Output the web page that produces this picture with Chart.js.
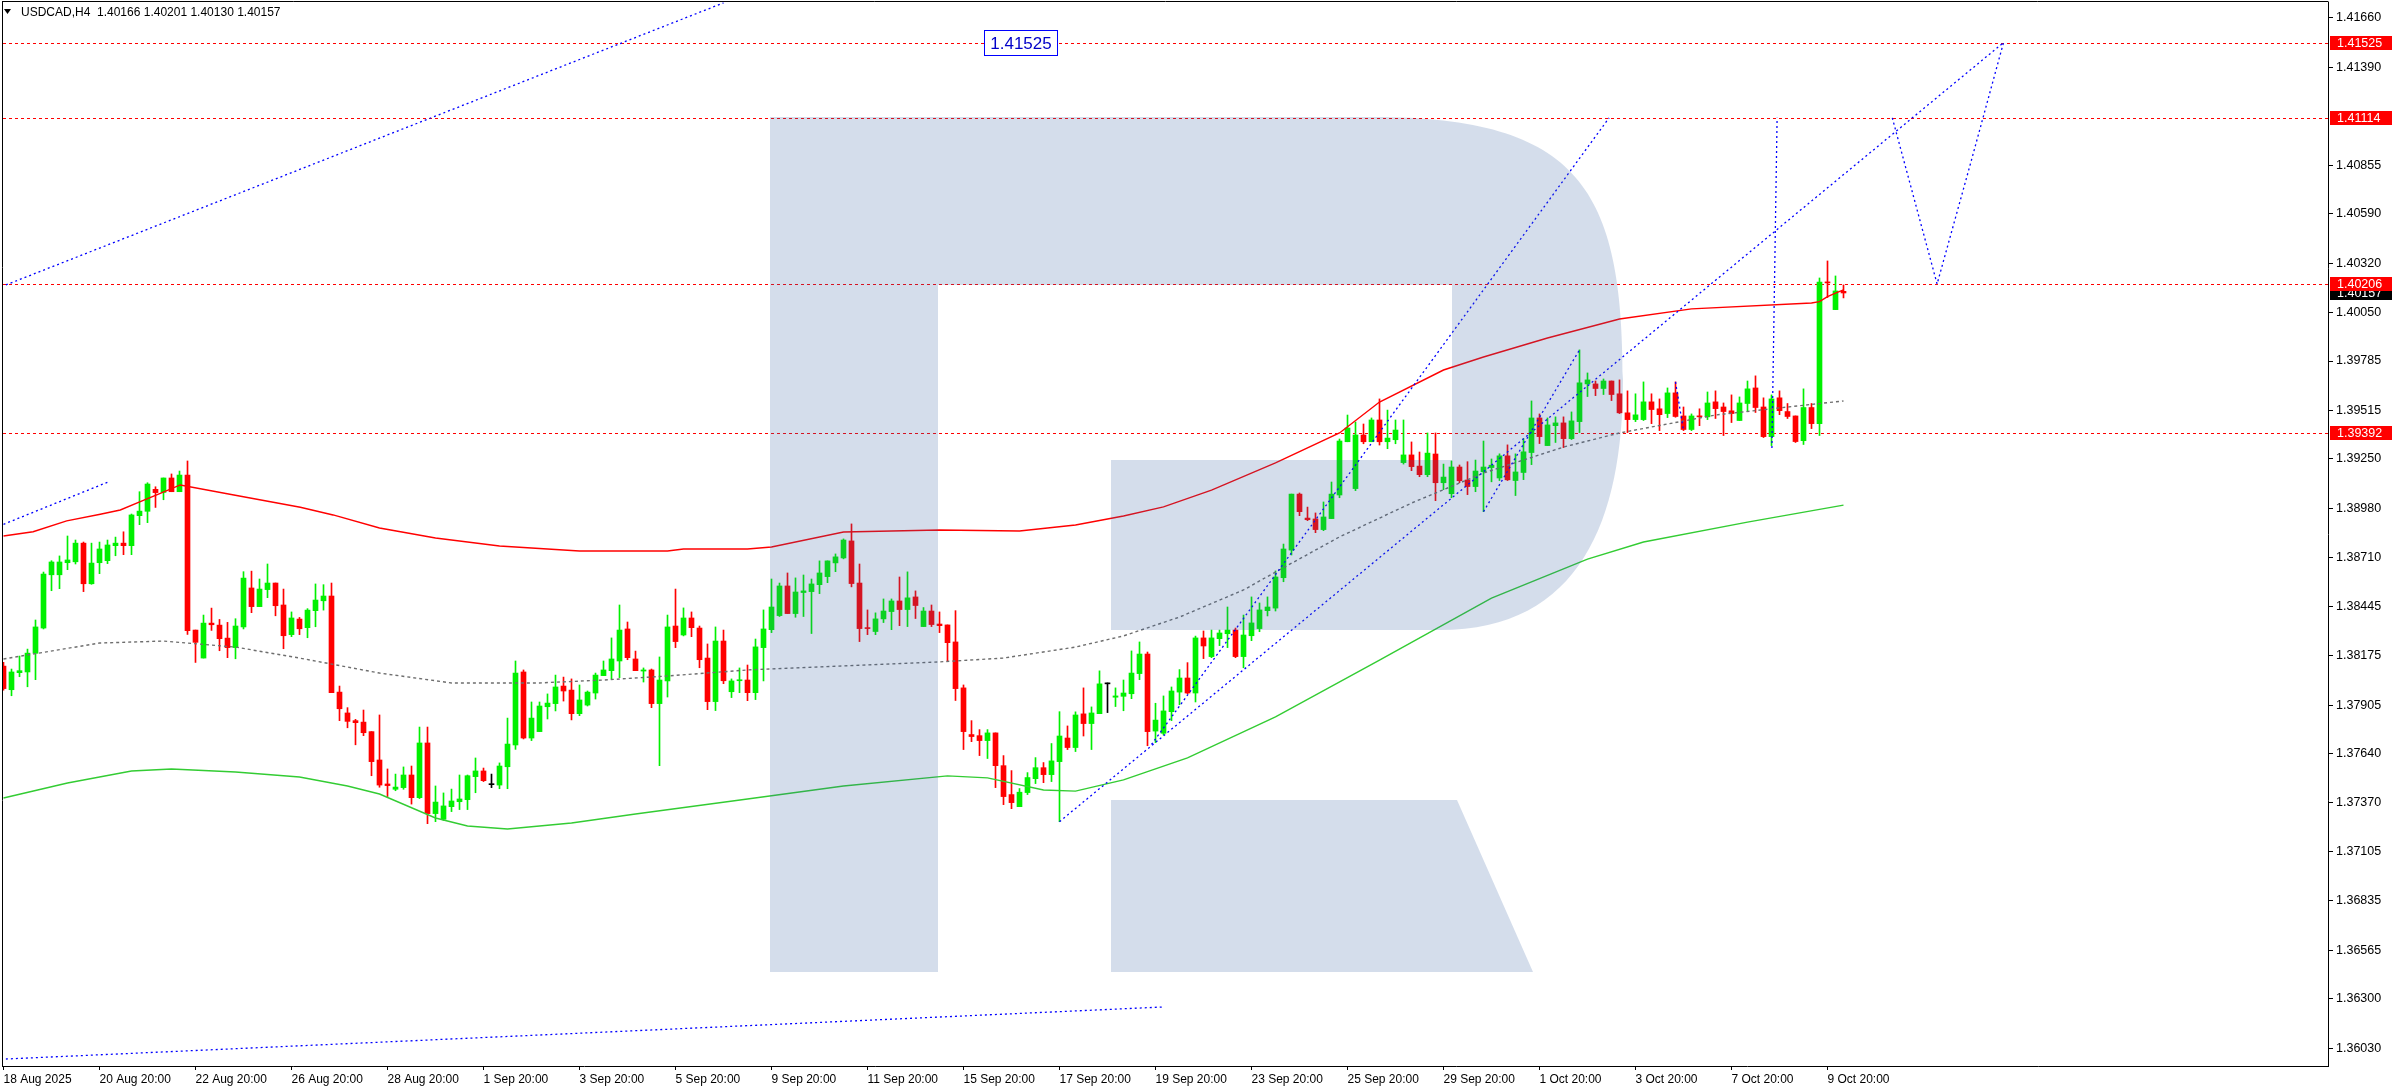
<!DOCTYPE html>
<html>
<head>
<meta charset="utf-8">
<script src="https://cdn.jsdelivr.net/npm/chart.js@4.4.1/dist/chart.umd.min.js"></script>
<style>
html,body{margin:0;padding:0;background:#fff;overflow:hidden}
#wrap{width:2392px;height:1090px;position:relative}
canvas{display:block}
</style>
</head>
<body>
<div id="wrap"><canvas id="c" width="2392" height="1090"></canvas></div>
<script>
// ---------------- DATA ----------------
const headerText = 'USDCAD,H4  1.40166 1.40201 1.40130 1.40157';

const xTickBars = [0,12,24,36,48,60,72,84,96,108,120,132,144,156,168,180,192,204,216,228];
const xTickLabels = ['18 Aug 2025','20 Aug 20:00','22 Aug 20:00','26 Aug 20:00','28 Aug 20:00','1 Sep 20:00','3 Sep 20:00','5 Sep 20:00','9 Sep 20:00','11 Sep 20:00','15 Sep 20:00','17 Sep 20:00','19 Sep 20:00','23 Sep 20:00','25 Sep 20:00','29 Sep 20:00','1 Oct 20:00','3 Oct 20:00','7 Oct 20:00','9 Oct 20:00'];

const yTickValues = [1.41660,1.41390,1.40855,1.40590,1.40320,1.40050,1.39785,1.39515,1.39250,1.38980,1.38710,1.38445,1.38175,1.37905,1.37640,1.37370,1.37105,1.36835,1.36565,1.36300,1.36030];

const opens = [1.38118,1.37989,1.38082,1.38086,1.38188,1.38326,1.38617,1.38617,1.38683,1.38688,
1.38790,1.38568,1.38683,1.38694,1.38776,1.38790,1.38776,1.38940,1.38964,1.39084,
1.39067,1.39146,1.39071,1.39162,1.38315,1.38162,1.38353,1.38342,1.38271,1.38219,
1.38332,1.38545,1.38443,1.38536,1.38572,1.38452,1.38290,1.38375,1.38328,1.38421,
1.38475,1.38501,1.37976,1.37862,1.37820,1.37812,1.37760,1.37605,1.37474,1.37445,
1.37454,1.37523,1.37399,1.37698,1.37312,1.37281,1.37350,1.37377,1.37388,1.37514,
1.37545,1.37470,1.37468,1.37568,1.37687,1.38086,1.37725,1.37760,1.37896,1.37913,
1.38009,1.37987,1.37858,1.37905,1.37971,1.38066,1.38093,1.38146,1.38321,1.38157,
1.38091,1.38097,1.37913,1.38037,1.38337,1.38288,1.38381,1.38326,1.38162,1.37924,
1.38255,1.37978,1.38038,1.38042,1.37973,1.38219,1.38317,1.38394,1.38556,1.38405,
1.38520,1.38525,1.38563,1.38607,1.38682,1.38709,1.38802,1.38572,1.38328,1.38307,
1.38376,1.38416,1.38474,1.38427,1.38496,1.38334,1.38419,1.38348,1.38343,1.38250,
1.37999,1.37744,1.37738,1.37711,1.37753,1.37574,1.37416,1.37350,1.37427,1.37503,
1.37563,1.37525,1.37596,1.37725,1.37673,1.37857,1.37804,1.37858,1.38021,1.37948,
1.37953,1.37967,1.38077,1.38184,1.37763,1.37751,1.37869,1.37976,1.38053,1.37971,
1.38272,1.38170,1.38268,1.38295,1.38315,1.38170,1.38284,1.38323,1.38421,1.38435,
1.38601,1.38752,1.39058,1.38927,1.38922,1.38864,1.38924,1.39053,1.39344,1.39088,
1.39381,1.39344,1.39463,1.39344,1.39355,1.39230,1.39272,1.39211,1.39164,1.39277,
1.39120,1.39060,1.39206,1.39135,1.39099,1.39180,1.39203,1.39146,1.39267,1.39132,
1.39176,1.39285,1.39474,1.39323,1.39432,1.39447,1.39361,1.39454,1.39660,1.39660,
1.39635,1.39676,1.39606,1.39502,1.39465,1.39465,1.39562,1.39524,1.39498,1.39611,
1.39485,1.39411,1.39485,1.39480,1.39562,1.39534,1.39513,1.39460,1.39553,1.39638,
1.39534,1.39372,1.39584,1.39509,1.39485,1.39350,1.39531,1.39443,1.40217,1.40066,
1.40166];

const highs = [1.38138,1.38102,1.38173,1.38211,1.38370,1.38632,1.38694,1.38720,1.38829,1.38807,
1.38796,1.38790,1.38796,1.38807,1.38823,1.38852,1.38949,1.39071,1.39120,1.39098,
1.39146,1.39168,1.39184,1.39239,1.38315,1.38397,1.38435,1.38373,1.38357,1.38377,
1.38634,1.38637,1.38594,1.38676,1.38572,1.38539,1.38414,1.38384,1.38432,1.38567,
1.38563,1.38572,1.38009,1.37891,1.37827,1.37878,1.37760,1.37851,1.37556,1.37528,
1.37567,1.37572,1.37785,1.37785,1.37463,1.37425,1.37446,1.37523,1.37523,1.37616,
1.37561,1.37528,1.37589,1.37834,1.38146,1.38097,1.37922,1.37922,1.37966,1.38069,
1.38058,1.38048,1.38015,1.37982,1.38080,1.38146,1.38272,1.38452,1.38359,1.38200,
1.38108,1.38102,1.38168,1.38397,1.38539,1.38436,1.38414,1.38337,1.38239,1.38332,
1.38315,1.38048,1.38108,1.38124,1.38266,1.38425,1.38594,1.38572,1.38627,1.38600,
1.38616,1.38594,1.38693,1.38693,1.38731,1.38813,1.38895,1.38676,1.38425,1.38409,
1.38485,1.38485,1.38605,1.38633,1.38529,1.38438,1.38452,1.38414,1.38343,1.38421,
1.38015,1.37820,1.37771,1.37771,1.37753,1.37629,1.37547,1.37449,1.37536,1.37618,
1.37591,1.37695,1.37869,1.37791,1.37868,1.37999,1.37895,1.38092,1.38026,1.37999,
1.38042,1.38201,1.38250,1.38195,1.37915,1.37955,1.38004,1.38099,1.38137,1.38282,
1.38310,1.38315,1.38315,1.38441,1.38326,1.38397,1.38496,1.38463,1.38496,1.38638,
1.38785,1.39058,1.39064,1.38987,1.38955,1.39015,1.39124,1.39359,1.39490,1.39452,
1.39441,1.39474,1.39578,1.39517,1.39463,1.39463,1.39343,1.39288,1.39392,1.39392,
1.39222,1.39239,1.39217,1.39235,1.39244,1.39348,1.39250,1.39278,1.39327,1.39278,
1.39361,1.39567,1.39496,1.39474,1.39480,1.39480,1.39507,1.39846,1.39720,1.39676,
1.39687,1.39676,1.39682,1.39622,1.39606,1.39671,1.39606,1.39578,1.39638,1.39671,
1.39534,1.39496,1.39524,1.39616,1.39622,1.39556,1.39600,1.39589,1.39676,1.39704,
1.39584,1.39600,1.39622,1.39553,1.39485,1.39633,1.39553,1.40239,1.40332,1.40250,
1.40201];

const lows = [1.37987,1.37956,1.38060,1.38005,1.38044,1.38321,1.38530,1.38541,1.38645,1.38676,
1.38525,1.38565,1.38623,1.38678,1.38721,1.38727,1.38727,1.38891,1.38902,1.38985,
1.39027,1.39071,1.39071,1.38291,1.38138,1.38162,1.38313,1.38202,1.38164,1.38158,
1.38321,1.38410,1.38443,1.38492,1.38393,1.38213,1.38279,1.38290,1.38273,1.38333,
1.38424,1.37973,1.37820,1.37781,1.37688,1.37738,1.37519,1.37456,1.37405,1.37437,
1.37445,1.37364,1.37394,1.37257,1.37268,1.37275,1.37323,1.37334,1.37334,1.37426,
1.37487,1.37454,1.37448,1.37448,1.37663,1.37720,1.37711,1.37760,1.37829,1.37873,
1.37927,1.37824,1.37847,1.37900,1.37938,1.38066,1.38046,1.38055,1.38153,1.38093,
1.38031,1.37891,1.37574,1.37949,1.38219,1.38283,1.38279,1.38109,1.37880,1.37875,
1.38022,1.37946,1.37973,1.37929,1.37935,1.38037,1.38301,1.38389,1.38405,1.38385,
1.38389,1.38296,1.38514,1.38574,1.38634,1.38704,1.38551,1.38252,1.38290,1.38290,
1.38356,1.38317,1.38339,1.38334,1.38378,1.38334,1.38334,1.38301,1.38144,1.37930,
1.37662,1.37705,1.37629,1.37613,1.37454,1.37361,1.37339,1.37350,1.37416,1.37476,
1.37481,1.37487,1.37268,1.37662,1.37651,1.37736,1.37662,1.37858,1.37864,1.37897,
1.37874,1.37940,1.38044,1.37683,1.37700,1.37742,1.37820,1.37907,1.37966,1.37922,
1.38159,1.38164,1.38230,1.38219,1.38164,1.38109,1.38257,1.38306,1.38392,1.38419,
1.38579,1.38725,1.38940,1.38913,1.38847,1.38858,1.38924,1.39038,1.39344,1.39077,
1.39333,1.39344,1.39326,1.39306,1.39333,1.39222,1.39186,1.39153,1.39153,1.39022,
1.39082,1.39038,1.39120,1.39055,1.39071,1.38962,1.39125,1.39132,1.39132,1.39050,
1.39137,1.39219,1.39334,1.39323,1.39340,1.39312,1.39356,1.39394,1.39591,1.39596,
1.39602,1.39569,1.39498,1.39394,1.39454,1.39460,1.39443,1.39405,1.39476,1.39478,
1.39405,1.39405,1.39432,1.39465,1.39471,1.39378,1.39449,1.39460,1.39509,1.39504,
1.39367,1.39323,1.39492,1.39471,1.39340,1.39329,1.39416,1.39378,1.40132,1.40066,
1.40130];

const closes = [1.37995,1.38086,1.38093,1.38189,1.38332,1.38621,1.38687,1.38687,1.38698,1.38790,
1.38568,1.38681,1.38758,1.38780,1.38790,1.38776,1.38944,1.38965,1.39113,1.39066,
1.39146,1.39071,1.39162,1.38311,1.38248,1.38353,1.38344,1.38268,1.38219,1.38337,
1.38599,1.38443,1.38539,1.38572,1.38448,1.38284,1.38381,1.38322,1.38424,1.38479,
1.38501,1.37973,1.37885,1.37816,1.37809,1.37754,1.37596,1.37468,1.37465,1.37457,
1.37523,1.37399,1.37698,1.37312,1.37375,1.37354,1.37381,1.37392,1.37519,1.37545,
1.37492,1.37470,1.37572,1.37692,1.38080,1.37725,1.37834,1.37900,1.37916,1.38004,
1.37982,1.37858,1.37933,1.37976,1.38069,1.38097,1.38157,1.38315,1.38164,1.38093,
1.38097,1.37913,1.38042,1.38332,1.38252,1.38381,1.38328,1.38153,1.37924,1.38255,
1.38038,1.38037,1.38042,1.37973,1.38223,1.38321,1.38441,1.38556,1.38405,1.38523,
1.38529,1.38567,1.38627,1.38693,1.38715,1.38807,1.38569,1.38323,1.38323,1.38376,
1.38419,1.38474,1.38427,1.38491,1.38449,1.38419,1.38345,1.38339,1.38246,1.37995,
1.37760,1.37733,1.37711,1.37753,1.37574,1.37405,1.37372,1.37429,1.37509,1.37563,
1.37525,1.37600,1.37736,1.37673,1.37851,1.37804,1.37862,1.38021,1.38021,1.37955,
1.37971,1.38080,1.38184,1.37760,1.37823,1.37873,1.37982,1.38053,1.37971,1.38272,
1.38228,1.38272,1.38299,1.38315,1.38170,1.38288,1.38354,1.38425,1.38441,1.38605,
1.38758,1.39058,1.38962,1.38918,1.38864,1.38933,1.39058,1.39348,1.39419,1.39381,
1.39344,1.39463,1.39344,1.39364,1.39408,1.39272,1.39208,1.39164,1.39282,1.39120,
1.39151,1.39206,1.39131,1.39099,1.39184,1.39206,1.39216,1.39267,1.39136,1.39179,
1.39289,1.39474,1.39372,1.39436,1.39447,1.39361,1.39458,1.39666,1.39682,1.39635,
1.39676,1.39602,1.39502,1.39465,1.39491,1.39562,1.39520,1.39492,1.39611,1.39482,
1.39411,1.39485,1.39480,1.39556,1.39525,1.39509,1.39498,1.39556,1.39633,1.39531,
1.39372,1.39578,1.39514,1.39482,1.39345,1.39531,1.39443,1.40217,1.40212,1.40168,
1.40157];

// moving-average style lines: [bar index, price]
const upperLine = [[0,1.38829],[3.7,1.38852],[7.9,1.38912],[12.1,1.38948],[14.6,1.38971],[17.1,1.39017],[19.6,1.39062],[22.1,1.39108],[28.8,1.39053],[37.1,1.38986],[41.2,1.38944],[47,1.38873],[54,1.38818],[62,1.38774],[72,1.38747],[83,1.38747],[85,1.38758],[93,1.38758],[96,1.38769],[105,1.38851],[117,1.38862],[127,1.38856],[134,1.38889],[140,1.38938],[145,1.38988],[151,1.39080],[159,1.39228],[167,1.39392],[172,1.39561],[180,1.39736],[185,1.39807],[193,1.39911],[202,1.40015],[211,1.40070],[226,1.40102],[227,1.40110],[228,1.40137],[229,1.40156],[230,1.40174]];
const middleLine = [[0,1.38157],[12,1.38244],[20,1.38255],[29,1.38222],[37,1.38162],[47,1.38080],[56,1.38026],[67,1.38026],[75,1.38042],[83,1.38064],[93,1.38097],[117,1.38141],[125,1.38162],[134,1.38222],[140,1.38283],[147,1.38386],[155,1.38534],[159,1.38632],[167,1.38824],[176,1.39009],[185,1.39173],[195,1.39315],[202,1.39392],[214,1.39490],[222,1.39529],[230,1.39567]];
const lowerLine = [[0,1.37397],[8,1.37479],[16,1.37545],[21,1.37556],[29,1.37539],[37,1.37512],[43,1.37463],[47,1.37419],[54,1.37288],[58,1.37244],[63,1.37228],[71,1.37261],[79,1.37310],[93,1.37392],[105,1.37463],[118,1.37518],[123,1.37507],[130,1.37441],[134,1.37435],[140,1.37496],[148,1.37616],[159,1.37840],[172,1.38151],[186,1.38490],[198,1.38703],[205,1.38796],[218,1.38905],[230,1.38998]];

// dotted trend / forecast lines: list of polylines [bar index, price]
const trendLines = [
  [[0.3,1.40201],[90,1.41742]],
  [[0,1.38893],[13.2,1.39126]],
  [[0.3,1.35971],[144.8,1.36255]],
  [[132,1.37268],[250,1.41525]],
  [[143.5,1.37690],[200.7,1.41114]],
  [[185,1.38962],[197,1.39846]],
  [[209,1.39671],[210,1.39405]],
  [[221.05,1.39310],[221.7,1.41114]],
  [[236.1,1.41114],[241.7,1.40206],[246,1.40884],[250,1.41525]]
];

const levels = [1.41525, 1.41114, 1.40206, 1.39392];
const lastPrice = 1.40157;
const tagValue = 1.41525;
const tagBars = [122.6, 131.7];

// ---------------- STYLE / LAYOUT ----------------
const BULL = '#00f000', BEAR = '#ff0000', DOJI = '#000000';
const X_MIN = -0.0625, X_MAX = 290.5625;
const Y_MIN = 1.359328, Y_MAX = 1.41747;
const FONT = 'Liberation Sans';

const idx = opens.map((_, i) => i);
const candleColor = idx.map(i => closes[i] > opens[i] ? BULL : (closes[i] < opens[i] ? BEAR : DOJI));

const lineDs = (pts, color, width, dash, order) => ({
  type: 'line',
  data: pts.map(p => ({x: p[0], y: p[1]})),
  borderColor: color, borderWidth: width, borderDash: dash || [],
  pointRadius: 0, tension: 0, fill: false, clip: 0, order: order
});

const datasets = [
  { type: 'bar', data: idx.map(i => ({x: i, y: [lows[i], highs[i]]})), backgroundColor: candleColor,
    barThickness: 1, grouped: false, borderWidth: 0, minBarLength: 1, clip: 0, order: 7 },
  { type: 'bar', data: idx.map(i => ({x: i, y: [opens[i], closes[i]]})), backgroundColor: candleColor,
    barThickness: 5, grouped: false, borderWidth: 0, minBarLength: 1, clip: 0, order: 6 },
  lineDs(upperLine, '#ff0000', 1.4, [], 3),
  lineDs(middleLine, '#6e6e6e', 1.4, [3, 3], 3),
  lineDs(lowerLine, '#33cc33', 1.4, [], 3)
];
trendLines.forEach(t => datasets.push(lineDs(t, '#0000ff', 1.3, [2, 3], 1)));

// ---------------- PLUGINS ----------------
const levelsPlugin = {
  id: 'levels',
  beforeDatasetsDraw(chart) {
    const {ctx, chartArea: a, scales: {y}} = chart;
    ctx.save();
    ctx.strokeStyle = '#ff0000'; ctx.lineWidth = 1; ctx.setLineDash([3, 3]);
    levels.forEach(v => {
      const py = Math.round(y.getPixelForValue(v)) + 0.5;
      ctx.beginPath(); ctx.moveTo(a.left, py); ctx.lineTo(a.right, py); ctx.stroke();
    });
    ctx.restore();
  }
};

const watermarkPlugin = {
  id: 'wm',
  afterDatasetsDraw(chart) {
    const c = chart.ctx;
    c.save();
    c.fillStyle = 'rgba(50,95,160,0.21)';
    c.beginPath();
    c.moveTo(770, 117); c.lineTo(1373, 117);
    c.bezierCurveTo(1580, 117, 1623, 190, 1623, 380);
    c.bezierCurveTo(1623, 520, 1580, 630, 1440, 630);
    c.lineTo(1111, 630); c.lineTo(1111, 460); c.lineTo(1452, 460); c.lineTo(1452, 285);
    c.lineTo(938, 285); c.lineTo(938, 972); c.lineTo(770, 972); c.closePath();
    c.moveTo(1111, 800); c.lineTo(1457, 800); c.lineTo(1533, 972); c.lineTo(1111, 972); c.closePath();
    c.fill();
    c.restore();
  }
};

const overlayPlugin = {
  id: 'overlay',
  afterDraw(chart) {
    const {ctx, chartArea: a, scales: {x, y}} = chart;
    ctx.save();
    // frame (top + left)
    ctx.strokeStyle = '#000'; ctx.lineWidth = 1;
    ctx.beginPath(); ctx.moveTo(a.left - 0.5, 1.5); ctx.lineTo(a.right + 0.5, 1.5); ctx.stroke();
    ctx.beginPath(); ctx.moveTo(a.left - 0.5, 1); ctx.lineTo(a.left - 0.5, a.bottom + 1); ctx.stroke();

    // header
    ctx.fillStyle = '#000';
    ctx.beginPath(); ctx.moveTo(4, 9); ctx.lineTo(11, 9); ctx.lineTo(7.5, 14); ctx.closePath(); ctx.fill();
    ctx.font = '12px "' + FONT + '"'; ctx.textBaseline = 'middle'; ctx.textAlign = 'left';
    ctx.fillText(headerText, 21, 12.5);

    // price tag in chart
    const ty = y.getPixelForValue(tagValue);
    const tx0 = Math.round(x.getPixelForValue(tagBars[0])) + 0.5;
    const tx1 = Math.round(x.getPixelForValue(tagBars[1])) + 0.5;
    ctx.fillStyle = '#ffffff';
    ctx.fillRect(tx0, Math.round(ty) - 12.5, tx1 - tx0, 25);
    ctx.strokeStyle = '#0000ff';
    ctx.strokeRect(tx0, Math.round(ty) - 12.5, tx1 - tx0, 25);
    ctx.fillStyle = '#0000c8';
    ctx.font = '17px "' + FONT + '"'; ctx.textAlign = 'center';
    ctx.fillText(tagValue.toFixed(5), (tx0 + tx1) / 2, Math.round(ty) + 1);

    // right axis labels
    ctx.font = '12.5px "' + FONT + '"'; ctx.textAlign = 'left';
    const box = (v, bg) => {
      const py = Math.round(y.getPixelForValue(v));
      ctx.fillStyle = bg;
      ctx.fillRect(a.right + 2, py - 7, chart.width - a.right - 2, 14);
      ctx.fillStyle = '#ffffff';
      ctx.fillText(v.toFixed(5), a.right + 9, py + 0.5);
    };
    box(lastPrice, '#000000');
    levels.forEach(v => box(v, '#ff0000'));
    ctx.restore();
  }
};

// ---------------- CHART ----------------
new Chart(document.getElementById('c'), {
  type: 'bar',
  data: { datasets },
  options: {
    responsive: false, animation: false, devicePixelRatio: 1,
    layout: { padding: { left: 3, top: 2, right: 0, bottom: 0 } },
    plugins: { legend: { display: false }, tooltip: { enabled: false }, title: { display: false } },
    scales: {
      x: {
        type: 'linear', position: 'bottom', min: X_MIN, max: X_MAX, offset: false,
        grid: { display: true, drawOnChartArea: false, drawTicks: true, tickLength: 4, color: '#000', offset: false },
        border: { display: true, color: '#000', width: 1 },
        ticks: { autoSkip: false, maxRotation: 0, minRotation: 0, align: 'start', padding: 2, color: '#000',
                 font: { family: FONT, size: 12 }, callback: (v, i) => xTickLabels[i] },
        afterBuildTicks: s => { s.ticks = xTickBars.map(v => ({ value: v })); },
        afterFit: s => { s.height = 24; s.paddingLeft = 0; s.paddingRight = 0; }
      },
      y: {
        type: 'linear', position: 'right', min: Y_MIN, max: Y_MAX,
        grid: { display: true, drawOnChartArea: false, drawTicks: true, tickLength: 5, color: '#000' },
        border: { display: true, color: '#000', width: 1 },
        ticks: { autoSkip: false, padding: 3, color: '#000', font: { family: FONT, size: 12.5 },
                 callback: v => Number(v).toFixed(5) },
        afterBuildTicks: s => { s.ticks = yTickValues.map(v => ({ value: v })); },
        afterFit: s => { s.width = 64; s.paddingTop = 0; s.paddingBottom = 0; }
      }
    }
  },
  plugins: [levelsPlugin, watermarkPlugin, overlayPlugin]
});
</script>
</body>
</html>
